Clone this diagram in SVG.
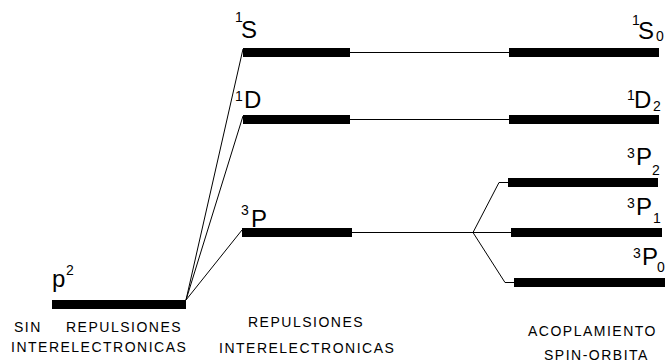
<svg xmlns="http://www.w3.org/2000/svg" width="665" height="363" viewBox="0 0 665 363">
<style>
.bar{fill:#000}
.ln{stroke:#000;stroke-width:1;fill:none}
.big{font-family:"Liberation Sans",Arial,sans-serif;font-size:24px;fill:#000}
.sm{font-size:14px}
.cap{font-family:"Liberation Sans",Arial,sans-serif;font-size:14px;letter-spacing:1.5px;fill:#000}
</style>
<rect width="665" height="363" fill="#fff"/>
<g id="connectors">
<polyline class="ln" points="186,300 243,49"/>
<polyline class="ln" points="186,300 243,116"/>
<polyline class="ln" points="186,300 242,230"/>
<polyline class="ln" points="350,52.5 509,52.5"/>
<polyline class="ln" points="350,119.5 509,119.5"/>
<polyline class="ln" points="352,232.5 511,232.5"/>
<polyline class="ln" points="473,232.5 499,182.5 508,182.5"/>
<polyline class="ln" points="473,232.5 505,282.5 514,282.5"/>
</g>
<g id="p2">
<rect class="bar" x="52" y="300" width="134" height="9"/>
<text class="big"><tspan x="52" y="287">p</tspan><tspan class="sm" x="66" y="275">2</tspan></text>
</g>
<g id="S1">
<rect class="bar" x="243" y="48" width="107" height="9"/>
<text class="big"><tspan class="sm" x="235" y="22">1</tspan><tspan x="241" y="38">S</tspan></text>
</g>
<g id="D1">
<rect class="bar" x="243" y="115" width="107" height="9"/>
<text class="big"><tspan class="sm" x="235" y="101">1</tspan><tspan x="244" y="108">D</tspan></text>
</g>
<g id="P3">
<rect class="bar" x="242" y="228" width="110" height="9"/>
<text class="big"><tspan class="sm" x="241" y="215">3</tspan><tspan x="251" y="227">P</tspan></text>
</g>
<g id="S1_0">
<rect class="bar" x="509" y="48" width="150" height="9"/>
<text class="big"><tspan class="sm" x="632" y="25">1</tspan><tspan x="638" y="39">S</tspan><tspan class="sm" x="656" y="41">0</tspan></text>
</g>
<g id="D1_2">
<rect class="bar" x="509" y="115" width="150" height="9"/>
<text class="big"><tspan class="sm" x="627" y="100">1</tspan><tspan x="634" y="108">D</tspan><tspan class="sm" x="653" y="111">2</tspan></text>
</g>
<g id="P3_2">
<rect class="bar" x="508" y="178" width="150" height="9"/>
<text class="big"><tspan class="sm" x="627" y="158">3</tspan><tspan x="636" y="165">P</tspan><tspan class="sm" x="652" y="175">2</tspan></text>
</g>
<g id="P3_1">
<rect class="bar" x="511" y="228" width="151" height="9"/>
<text class="big"><tspan class="sm" x="627" y="208">3</tspan><tspan x="636" y="215">P</tspan><tspan class="sm" x="653" y="223">1</tspan></text>
</g>
<g id="P3_0">
<rect class="bar" x="514" y="278" width="151" height="9"/>
<text class="big"><tspan class="sm" x="633" y="258">3</tspan><tspan x="642" y="265">P</tspan><tspan class="sm" x="657" y="272">0</tspan></text>
</g>
<g id="labels">
<text class="cap" x="14" y="332">SIN</text>
<text class="cap" x="66" y="332">REPULSIONES</text>
<text class="cap" x="11" y="352">INTERELECTRONICAS</text>
<text class="cap" x="248" y="327">REPULSIONES</text>
<text class="cap" x="219" y="353">INTERELECTRONICAS</text>
<text class="cap" x="528" y="336">ACOPLAMIENTO</text>
<text class="cap" x="544" y="360">SPIN-ORBITA</text>
</g>
</svg>
